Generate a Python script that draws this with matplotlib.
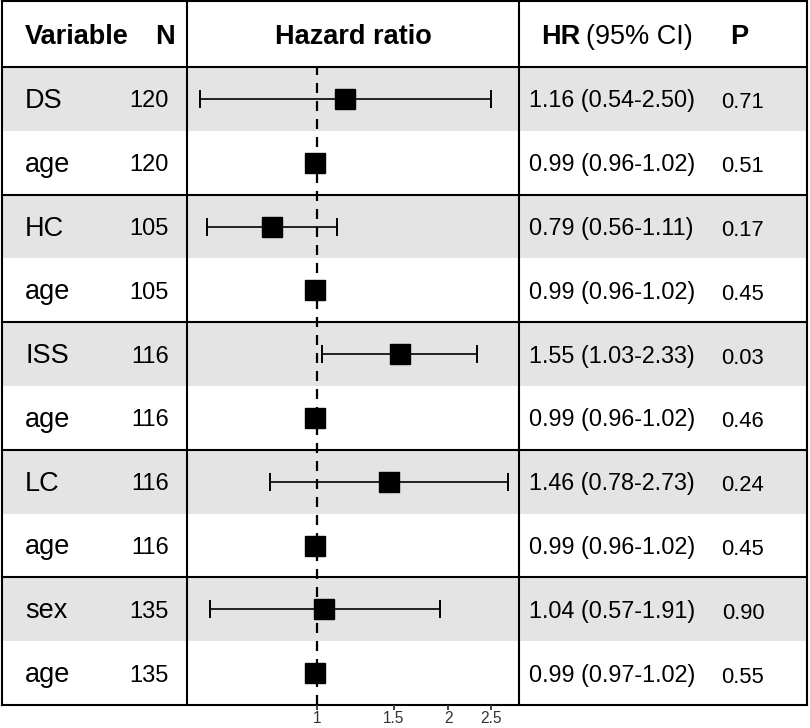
import matplotlib
matplotlib.use('Agg')
import matplotlib.pyplot as plt
import numpy as np

plt.rcParams['font.family'] = ['Liberation Sans', 'DejaVu Sans']

# data
variables = ['DS', 'age', 'HC', 'age', 'ISS', 'age', 'LC', 'age', 'sex', 'age']
n_obs = [120, 120, 105, 105, 116, 116, 116, 116, 135, 135]
hr = [1.16, 0.99, 0.79, 0.99, 1.55, 0.99, 1.46, 0.99, 1.04, 0.99]
ci_low = [0.54, 0.96, 0.56, 0.96, 1.03, 0.96, 0.78, 0.96, 0.57, 0.97]
ci_high = [2.50, 1.02, 1.11, 1.02, 2.33, 1.02, 2.73, 1.02, 1.91, 1.02]
p_values = ['0.71', '0.51', '0.17', '0.45', '0.03', '0.46', '0.24', '0.45', '0.90', '0.55']
x_ticks = [1, 1.5, 2, 2.5]
x_tick_labels = ['1', '1.5', '2', '2.5']

# layout in pixels
W, H = 810, 728
x_left, x_div1, x_div2, x_right = 2, 187, 519, 807
y_top, y_head, y_bottom = 1, 67, 705
n_rows = len(variables)
row_h = (y_bottom - y_head) / n_rows
band_color = '#e4e4e4'
line_w = 1.5

fig = plt.figure(figsize=(W / 100, H / 100), dpi=100)

# background axes in pixel coords for the table
bg = fig.add_axes([0, 0, 1, 1])
bg.set_xlim(0, W)
bg.set_ylim(H, 0)
bg.axis('off')

for i in range(n_rows):
    y0 = y_head + i * row_h
    if i % 2 == 0:
        bg.fill_between([x_left, x_right], y0, y0 + row_h, color=band_color, lw=0)

# horizontal lines: top, header, groups, bottom
h_lines = [y_top, y_head] + [y_head + k * row_h for k in range(2, n_rows, 2)] + [y_bottom]
for y in h_lines:
    bg.plot([x_left, x_right], [y, y], color='black', lw=line_w, solid_capstyle='projecting')
for x in [x_left, x_div1, x_div2, x_right]:
    bg.plot([x, x], [y_top, y_bottom], color='black', lw=line_w, solid_capstyle='projecting')

# header
y_h = 36.5
bg.text(25, y_h, 'Variable', fontsize=19.5, fontweight='bold', va='center', ha='left')
bg.text(175, y_h, 'N', fontsize=19.5, fontweight='bold', va='center', ha='right')
bg.text(353, y_h, 'Hazard ratio', fontsize=19.5, fontweight='bold', va='center', ha='center')
bg.text(541, y_h, 'HR', fontsize=19.5, fontweight='bold', va='center', ha='left')
bg.text(586, y_h, '(95% CI)', fontsize=19.5, va='center', ha='left')
bg.text(730, y_h, 'P', fontsize=19.5, fontweight='bold', va='center', ha='left')

# table body
for i in range(n_rows):
    yc = y_head + (i + 0.5) * row_h
    bg.text(25, yc + 2, variables[i], fontsize=19.5, va='center', ha='left')
    bg.text(169, yc + 2.5, str(n_obs[i]), fontsize=17, va='center', ha='right')
    bg.text(529, yc + 2, f'{hr[i]:.2f} ({ci_low[i]:.2f}-{ci_high[i]:.2f})', fontsize=16.8, va='center', ha='left')
    bg.text(743, yc + 4, p_values[i], fontsize=15.8, va='center', ha='center')

# forest plot axes
ax = fig.add_axes([x_div1 / W, (H - y_bottom) / H, (x_div2 - x_div1) / W, (y_bottom - y_head) / H])
ax.patch.set_visible(False)
ax.set_xscale('log')
ax.set_xlim(0.505, 2.90)
ax.set_ylim(n_rows, 0)
for s in ax.spines.values():
    s.set_visible(False)

ypos = np.arange(n_rows) + 0.5
hr_arr = np.array(hr)
err = [hr_arr - np.array(ci_low), np.array(ci_high) - hr_arr]
ax.errorbar(hr_arr, ypos, xerr=err, fmt='none', ecolor='black', elinewidth=1.2,
            capsize=6.5, capthick=1.4, zorder=3)
ax.plot(hr_arr, ypos, 's', color='black', markersize=14.8, markeredgewidth=1, zorder=4)
ax.axvline(1, color='black', lw=1.6, linestyle=(0, (4.5, 3.6)), zorder=2)

ax.set_yticks([])
ax.xaxis.set_major_locator(plt.FixedLocator(x_ticks))
ax.xaxis.set_minor_locator(plt.NullLocator())
ax.set_xticklabels(x_tick_labels)
ax.tick_params(axis='x', direction='out', length=3.5, width=1.3, color='#333333',
               labelsize=11.2, labelcolor='#333333', pad=0.8)

fig.savefig('out.png', dpi=100)
